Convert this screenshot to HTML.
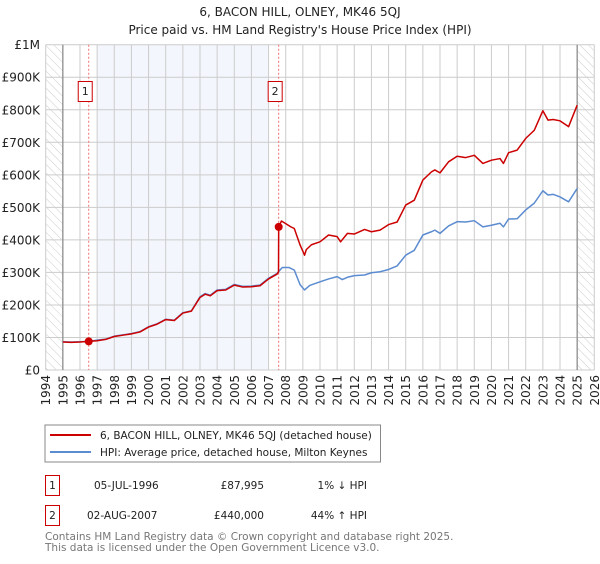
<!DOCTYPE html>
<html><head><meta charset="utf-8"><style>
body{margin:0;background:#fff;width:600px;height:560px;overflow:hidden;font-family:"DejaVu Sans","Liberation Sans",sans-serif;}
svg text{font-family:"DejaVu Sans","Liberation Sans",sans-serif;}
</style></head><body>
<svg id="c" width="600" height="560" xmlns="http://www.w3.org/2000/svg">
<defs><pattern id="hatch" width="6" height="6" patternUnits="userSpaceOnUse" patternTransform="rotate(-45)"><line x1="0" y1="0" x2="0" y2="6" stroke="#ccc" stroke-width="1"/></pattern></defs>
<text x="300" y="16" text-anchor="middle" font-size="12" fill="#222">6, BACON HILL, OLNEY, MK46 5QJ</text>
<text x="300" y="34" text-anchor="middle" font-size="12" fill="#222">Price paid vs. HM Land Registry's House Price Index (HPI)</text>
<g id="plot"></g>
<rect x="45" y="425" width="335.5" height="37" fill="#fff" stroke="#888"/>
<line x1="50" y1="435" x2="91" y2="435" stroke="#cc0000" stroke-width="2"/>
<text x="100" y="439" font-size="10.5" fill="#222">6, BACON HILL, OLNEY, MK46 5QJ (detached house)</text>
<line x1="50" y1="452" x2="91" y2="452" stroke="#5b8bd0" stroke-width="2"/>
<text x="100" y="456" font-size="10.5" fill="#222">HPI: Average price, detached house, Milton Keynes</text>
<rect x="45.5" y="475.5" width="14" height="20" fill="#fff" stroke="#cc0000"/>
<text x="52.5" y="489" text-anchor="middle" font-size="10.5" fill="#222">1</text>
<text x="94" y="489" font-size="10.5" fill="#222">05-JUL-1996</text>
<text x="264" y="489" text-anchor="end" font-size="10.5" fill="#222">£87,995</text>
<text x="367" y="489" text-anchor="end" font-size="10.5" fill="#222">1% ↓ HPI</text>
<rect x="45.5" y="505.5" width="14" height="20" fill="#fff" stroke="#cc0000"/>
<text x="52.5" y="519" text-anchor="middle" font-size="10.5" fill="#222">2</text>
<text x="87" y="519" font-size="10.5" fill="#222">02-AUG-2007</text>
<text x="264" y="519" text-anchor="end" font-size="10.5" fill="#222">£440,000</text>
<text x="367" y="519" text-anchor="end" font-size="10.5" fill="#222">44% ↑ HPI</text>
<text x="45" y="540" font-size="10.5" fill="#777">Contains HM Land Registry data © Crown copyright and database right 2025.</text>
<text x="45" y="551" font-size="10.5" fill="#777">This data is licensed under the Open Government Licence v3.0.</text>
</svg>
<script>
const hpiYears=[1995,1995.5,1996,1996.5,1997,1997.5,1998,1998.5,1999,1999.5,2000,2000.5,2001,2001.5,2002,2002.5,2003,2003.3,2003.6,2004,2004.5,2005,2005.5,2006,2006.5,2007,2007.5,2007.8,2008.2,2008.5,2008.84,2009.1,2009.4,2010,2010.5,2011,2011.3,2011.6,2012,2012.6,2013,2013.5,2014,2014.5,2015,2015.5,2016,2016.5,2016.7,2017,2017.5,2018,2018.5,2019,2019.5,2020,2020.5,2020.7,2021,2021.5,2022,2022.5,2023,2023.3,2023.6,2024,2024.5,2025];
const hpiValues=[87,86,87,88,92,95,104,108,112,118,133,142,156,153,176,182,225,235,230,246,248,263,257,258,261,282,297,315,315,307,262,246,260,271,280,287,278,285,290,292,299,302,309,320,353,368,415,425,430,420,443,456,455,459,440,445,451,440,464,465,492,513,551,538,540,532,517,558];
const propYears=[1995,1995.5,1996,1996.51,1997,1997.5,1998,1998.5,1999,1999.5,2000,2000.5,2001,2001.5,2002,2002.5,2003,2003.3,2003.6,2004,2004.5,2005,2005.5,2006,2006.5,2007,2007.5,2007.58,2007.59,2007.75,2008,2008.3,2008.5,2008.84,2009.1,2009.2,2009.5,2010,2010.5,2011,2011.2,2011.6,2012,2012.6,2013,2013.5,2014,2014.5,2015,2015.5,2016,2016.5,2016.7,2017,2017.5,2018,2018.5,2019,2019.5,2020,2020.5,2020.7,2021,2021.5,2022,2022.5,2023,2023.3,2023.6,2024,2024.5,2025];
const propValues=[86,85,86,88,90,94,103,107,111,117,132,141,155,152,175,181,223,233,228,244,246,261,255,256,259,280,295,302,440,458,450,440,435,384,353,370,385,394,415,410,394,420,418,432,425,430,447,455,507,522,584,609,615,606,640,657,653,660,635,645,650,635,668,676,712,737,797,768,770,766,748,814];
const saleYears=[1996.51,2007.59];
const saleValues=[88,440];
const yTickValues=[0,100,200,300,400,500,600,700,800,900,1000];
const yTickLabels=["£0","£100K","£200K","£300K","£400K","£500K","£600K","£700K","£800K","£900K","£1M"];
const xTickYears=[1994,1995,1996,1997,1998,1999,2000,2001,2002,2003,2004,2005,2006,2007,2008,2009,2010,2011,2012,2013,2014,2015,2016,2017,2018,2019,2020,2021,2022,2023,2024,2025,2026];
const X0=45.7,X1=594.3,Y0=370,Y1=44.7;
const xs=y=>X0+(y-1994)/(2026-1994)*(X1-X0);
const ys=v=>Y0-v/1000*(Y0-Y1);
const NS="http://www.w3.org/2000/svg";
const g=document.getElementById('plot');
function mk(t,a){const e=document.createElementNS(NS,t);for(const k in a)e.setAttribute(k,a[k]);g.appendChild(e);return e;}
let e;
e=mk('rect',{x:xs(1997),y:Y1,width:xs(2007)-xs(1997),height:Y0-Y1,fill:'#eef2fb',opacity:0.7});


e=mk('rect',{x:X0,y:Y1,width:xs(1995)-X0,height:Y0-Y1,fill:'url(#hatch)'});


e=mk('rect',{x:xs(2025),y:Y1,width:X1-xs(2025),height:Y0-Y1,fill:'url(#hatch)'});


yTickValues.forEach((v,i)=>{
 e=mk('line',{x1:X0,x2:X1,y1:ys(v),y2:ys(v),stroke:'#ccc','stroke-width':1});
 
 
 e=mk('text',{x:40,y:ys(v)+4.5,'text-anchor':'end','font-size':12,fill:'#222'});e.textContent=yTickLabels[i];
 
 
});
xTickYears.forEach(y=>{
 e=mk('line',{x1:xs(y),x2:xs(y),y1:Y1,y2:Y0,stroke:'#ccc','stroke-width':1});
 
 
 e=mk('text',{x:0,y:0,'text-anchor':'end','font-size':12,fill:'#222',transform:`translate(${xs(y)+4.5},375) rotate(-90)`});e.textContent=y;
 
 
});
[1995,2025].forEach(y=>{e=mk('line',{x1:xs(y),x2:xs(y),y1:Y1,y2:Y0,stroke:'#888','stroke-width':1.2});
 
 });
saleYears.forEach((y,i)=>{
 e=mk('line',{x1:xs(y),x2:xs(y),y1:Y1,y2:Y0,stroke:'#f07070','stroke-width':1,'stroke-dasharray':'2,2'});
 
 
 e=mk('rect',{x:xs(y)-10.5,y:81.5,width:14,height:20,fill:'#fff',stroke:'#cc0000'});
 
 
 e=mk('text',{x:xs(y)-3.5,y:95,'text-anchor':'middle','font-size':11,fill:'#222'});e.textContent=i+1;
 
 
});
e=mk('polyline',{points:hpiYears.map((y,i)=>xs(y)+','+ys(hpiValues[i])).join(' '),fill:'none',stroke:'#5b8bd0','stroke-width':1.5,'stroke-linejoin':'round'});


e=mk('polyline',{points:propYears.map((y,i)=>xs(y)+','+ys(propValues[i])).join(' '),fill:'none',stroke:'#cc0000','stroke-width':1.5,'stroke-linejoin':'round'});


saleYears.forEach((y,i)=>{
 e=mk('circle',{cx:xs(y),cy:ys(saleValues[i]),r:4,fill:'#cc0000'});
 
 
});
</script>
</body></html>
